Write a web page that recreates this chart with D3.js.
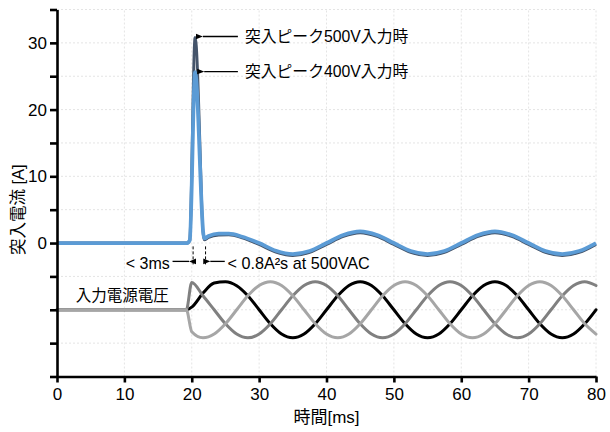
<!DOCTYPE html>
<html><head><meta charset="utf-8">
<script src="https://cdn.jsdelivr.net/npm/d3@7"></script>
<style>
body{margin:0;background:#fff}
text{font-family:"Liberation Sans","Noto Sans CJK JP",Arial,sans-serif;fill:#000}
</style></head><body><svg id="c" width="610" height="432"></svg>
<script>
// ---- data ----
const xTicks = [0,10,20,30,40,50,60,70,80];
const yTicks = [-20,-15,-10,-5,0,5,10,15,20,25,30,35];
const yLabelled = [0,10,20,30];

const tCurrent = [0,19.3,19.7,20.5,21.85,22.5,24,25.5,27.5,30,32.5,35,37.5,40,42.5,45,47.5,50,52.5,55,57.5,60,62.5,65,67.5,70,72.5,75,77.5,80];
const current500V = [0,0,0.45,30.8,0.5,0.85,1.2,1.25,0.8,-0.2,-1.35,-1.85,-1.4,-0.2,1.0,1.55,1.0,-0.2,-1.4,-1.85,-1.4,-0.2,1.0,1.55,1.0,-0.2,-1.4,-1.85,-1.4,-0.2];
const current400V = [0,0,0.4,25.6,0.7,1.05,1.4,1.4,0.95,0.0,-1.15,-1.65,-1.2,0,1.2,1.75,1.2,0,-1.2,-1.65,-1.2,0,1.2,1.75,1.2,0,-1.2,-1.65,-1.2,0];

const tVoltage = [0,19.2,20,21.67,23.33,25,26.67,28.33,30,31.67,33.33,35,36.67,38.33,40,41.67,43.33,45,46.67,48.33,50,51.67,53.33,55,56.67,58.33,60,61.67,63.33,65,66.67,68.33,70,71.67,73.33,75,76.67,78.33,80];
const phaseBlack = [-10,-10,-9.6,-7.5,-6.0,-5.8,-6.4,-7.9,-10,-12.1,-13.64,-14.2,-13.64,-12.1,
  -10,-7.9,-6.36,-5.8,-6.36,-7.9,-10,-12.1,-13.64,-14.2,-13.64,-12.1,
  -10,-7.9,-6.36,-5.8,-6.36,-7.9,-10,-12.1,-13.64,-14.2,-13.64,-12.1,-10];
const phaseGrey = [-10,-10,-5.9,-7.9,-10,-12.1,-13.64,-14.2,-13.64,-12.1,-10,-7.9,-6.36,-5.8,
  -6.36,-7.9,-10,-12.1,-13.64,-14.2,-13.64,-12.1,-10,-7.9,-6.36,-5.8,
  -6.36,-7.9,-10,-12.1,-13.64,-14.2,-13.64,-12.1,-10,-7.9,-6.36,-5.8,-6.36];
const phaseLight = [-10,-10,-13.3,-14.2,-13.64,-12.1,-10,-7.9,-6.36,-5.8,-6.36,-7.9,-10,-12.1,
  -13.64,-14.2,-13.64,-12.1,-10,-7.9,-6.36,-5.8,-6.36,-7.9,-10,-12.1,
  -13.64,-14.2,-13.64,-12.1,-10,-7.9,-6.36,-5.8,-6.36,-7.9,-10,-12.1,-13.64];

const labels = {
  yTitle: "突入電流 [A]",
  xTitle: "時間[ms]",
  peak500: "突入ピーク500V入力時",
  peak400: "突入ピーク400V入力時",
  t3ms: "< 3ms",
  i2t: "< 0.8A²s at 500VAC",
  voltage: "入力電源電圧"
};

// ---- drawing ----
const svg = d3.select("#c");
const x = d3.scaleLinear().domain([0,80]).range([57,596]);
const y = d3.scaleLinear().domain([-20,35]).range([376.5,9.5]);

svg.append("defs").append("marker")
  .attr("id","arr").attr("viewBox","0 0 10 10").attr("refX",0).attr("refY",5)
  .attr("markerWidth",7).attr("markerHeight",7).attr("markerUnits","userSpaceOnUse")
  .attr("orient","auto-start-reverse")
  .append("path").attr("d","M10,1 L0,5 L10,9 Z").attr("fill","#000");

// grid
const grid = svg.append("g").attr("stroke","#e4e4e4").attr("stroke-width",1).attr("stroke-dasharray","2,2");
grid.selectAll(".gx").data(xTicks.slice(1)).join("line")
  .attr("x1",d=>x(d)).attr("x2",d=>x(d)).attr("y1",y(-20)).attr("y2",y(35));
grid.selectAll(".gy").data(yTicks.slice(1)).join("line")
  .attr("y1",d=>y(d)).attr("y2",d=>y(d)).attr("x1",x(0)).attr("x2",x(80));

// voltage lines
const curve = d3.curveMonotoneX;
const vLine = arr => d3.line().x((d,i)=>x(tVoltage[i])).y(d=>y(d)).curve(curve)(arr);
[[phaseBlack,"#000000"],[phaseGrey,"#808080"],[phaseLight,"#a6a6a6"]].forEach(([arr,c])=>{
  svg.append("path").attr("d",vLine(arr)).attr("fill","none").attr("stroke",c)
    .attr("stroke-width",3).attr("stroke-linejoin","round").attr("stroke-linecap","round");
});

// current lines
const cLine = arr => d3.line().x((d,i)=>x(tCurrent[i])).y(d=>y(d)).curve(curve)(arr);
svg.append("path").attr("d",cLine(current500V)).attr("fill","none").attr("stroke","#44546a")
  .attr("stroke-width",3).attr("stroke-linejoin","round");
svg.append("path").attr("d",cLine(current400V)).attr("fill","none").attr("stroke","#5b9bd5")
  .attr("stroke-width",3.8).attr("stroke-linejoin","round");

// axes
const xAxis = svg.append("g").attr("transform",`translate(0,${y(-20)})`)
  .call(d3.axisBottom(x).tickValues(xTicks).tickSize(6).tickSizeOuter(0).tickPadding(5));
const yAxis = svg.append("g").attr("transform",`translate(${x(0)},0)`)
  .call(d3.axisLeft(y).tickValues(yTicks).tickSize(7).tickSizeOuter(0).tickPadding(3)
    .tickFormat(d=>yLabelled.includes(d)?d:""));
[xAxis,yAxis].forEach(a=>{
  a.select(".domain").attr("stroke","#000").attr("stroke-width",2.6);
  a.selectAll(".tick line").attr("stroke","#000").attr("stroke-width",2.6);
  a.selectAll(".tick text").attr("font-size",17).attr("font-family",'"Liberation Sans",Arial,sans-serif').attr("fill","#000");
});

// axis titles
svg.append("text").text(labels.xTitle).attr("x",x(40)).attr("y",423)
  .attr("text-anchor","middle").attr("font-size",17);
svg.append("text").text(labels.yTitle)
  .attr("transform",`translate(24,${y(5)}) rotate(-90)`)
  .attr("text-anchor","middle").attr("font-size",16.5);

// annotations
const ann = svg.append("g");
function arrowL(tTail,tTip,v){
  ann.append("line").attr("x1",x(tTail)).attr("y1",y(v)).attr("x2",x(tTip)+1).attr("y2",y(v))
    .attr("stroke","#000").attr("stroke-width",1.3).attr("marker-end","url(#arr)");
}
function arrowR(tTail,tTip,v){
  ann.append("line").attr("x1",x(tTail)).attr("y1",y(v)).attr("x2",x(tTip)-1).attr("y2",y(v))
    .attr("stroke","#000").attr("stroke-width",1.3).attr("marker-end","url(#arr)");
}
arrowL(26.85,21.5,30.95);
arrowL(26.85,21.7,25.7);
ann.append("text").text(labels.peak500).attr("x",x(27.9)).attr("y",y(30.95)).attr("dy","0.36em").attr("font-size",15.8);
ann.append("text").text(labels.peak400).attr("x",x(27.9)).attr("y",y(25.7)).attr("dy","0.36em").attr("font-size",15.8);

[20.2,22.05].forEach(t=>{
  ann.append("line").attr("x1",x(t)).attr("x2",x(t)).attr("y1",y(-0.5)).attr("y2",y(-3.2))
    .attr("stroke","#000").attr("stroke-width",1).attr("stroke-dasharray","3,2");
});
arrowR(17.15,19.75,-2.75);
arrowL(24.9,22.6,-2.75);
ann.append("text").text(labels.t3ms).attr("x",x(16.75)).attr("y",y(-3.0)).attr("dy","0.36em")
  .attr("text-anchor","end").attr("font-size",16);
ann.append("text").text(labels.i2t).attr("x",x(25.3)).attr("y",y(-3.0)).attr("dy","0.36em")
  .attr("font-size",16.2);
ann.append("text").text(labels.voltage).attr("x",x(2.8)).attr("y",y(-7.8)).attr("dy","0.36em")
  .attr("font-size",15.5);
</script></body></html>
